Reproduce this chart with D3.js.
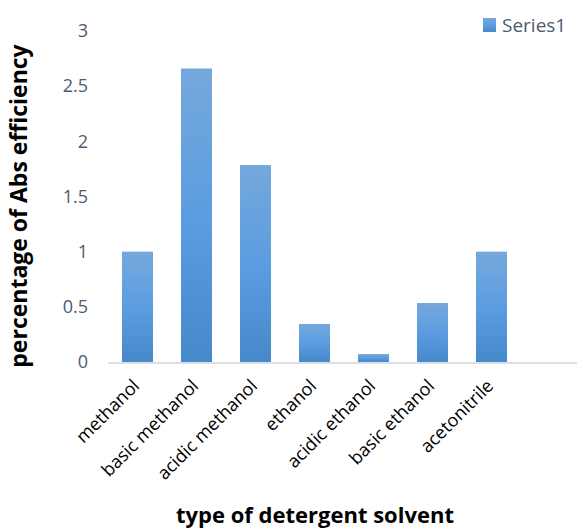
<!DOCTYPE html>
<html>
<head>
<meta charset="utf-8">
<script src="https://cdn.jsdelivr.net/npm/d3@7"></script>
<style>
  body { margin: 0; background: #fff; }
  svg { display: block; font-family: "Open Sans", sans-serif; }
</style>
</head>
<body>
<div id="chart"></div>
<script>
// data
const categories = ["methanol", "basic methanol", "acidic methanol", "ethanol",
                    "acidic ethanol", "basic ethanol", "acetonitrile", ""];
const series1 = [1.0, 2.66, 1.785, 0.345, 0.072, 0.535, 1.0];
const yTicks = [0, 0.5, 1, 1.5, 2, 2.5, 3];

const width = 577, height = 528;

const x = d3.scaleBand()
    .domain(categories)
    .range([108, 580])
    .paddingInner(0.475)
    .paddingOuter(0.2375);

const y = d3.scaleLinear()
    .domain([0, 3])
    .range([362, 31]);

const svg = d3.select("#chart").append("svg")
    .attr("width", width)
    .attr("height", height);

const defs = svg.append("defs");
const grad = defs.append("linearGradient")
    .attr("id", "barGrad")
    .attr("x1", 0).attr("y1", 0).attr("x2", 0).attr("y2", 1);
grad.append("stop").attr("offset", "0%").attr("stop-color", "#75a8dc");
grad.append("stop").attr("offset", "50%").attr("stop-color", "#5b9de0");
grad.append("stop").attr("offset", "100%").attr("stop-color", "#4689cb");

// y axis labels
const yAxis = svg.append("g")
    .attr("transform", "translate(88,0)")
    .call(d3.axisLeft(y).tickValues(yTicks).tickSize(0).tickPadding(0).tickFormat(d3.format("")));
yAxis.select(".domain").remove();
yAxis.selectAll("text")
    .attr("fill", "#4e5b6e")
    .style("font-family", "Open Sans, sans-serif")
    .style("font-size", "18px");

// bars
svg.selectAll(".bar")
    .data(series1)
  .enter().append("rect")
    .attr("class", "bar")
    .attr("x", (d, i) => x(categories[i]))
    .attr("width", x.bandwidth())
    .attr("y", d => y(d))
    .attr("height", d => y(0) - y(d))
    .attr("fill", "url(#barGrad)");

// x axis line
svg.append("line")
    .attr("x1", 108).attr("x2", width)
    .attr("y1", y(0) + 1).attr("y2", y(0) + 1)
    .attr("stroke", "#dde1e6")
    .attr("stroke-width", 2);

// category labels
svg.append("g").selectAll("text")
    .data(categories.filter(c => c !== ""))
  .enter().append("text")
    .attr("transform", d => "translate(" + (x(d) + x.bandwidth() / 2 + 3) + "," + 387 + ") rotate(-45)")
    .attr("text-anchor", "end")
    .attr("fill", "#000")
    .style("font-size", "18px")
    .text(d => d);

// axis titles
svg.append("text")
    .attr("transform", "translate(27,206) rotate(-90)")
    .attr("text-anchor", "middle")
    .style("font-size", "23px")
    .style("font-weight", "bold")
    .attr("fill", "#000")
    .text("percentage of Abs efficiency");

svg.append("text")
    .attr("x", 315)
    .attr("y", 523)
    .attr("text-anchor", "middle")
    .style("font-size", "22px")
    .style("font-weight", "bold")
    .attr("fill", "#000")
    .text("type of detergent solvent");

// legend
const legend = svg.append("g");
legend.append("rect")
    .attr("x", 483).attr("y", 18)
    .attr("width", 13).attr("height", 14)
    .attr("fill", "url(#barGrad)");
legend.append("text")
    .attr("x", 502).attr("y", 32)
    .attr("fill", "#4e5b6e")
    .style("font-size", "19px")
    .text("Series1");
</script>
</body>
</html>
